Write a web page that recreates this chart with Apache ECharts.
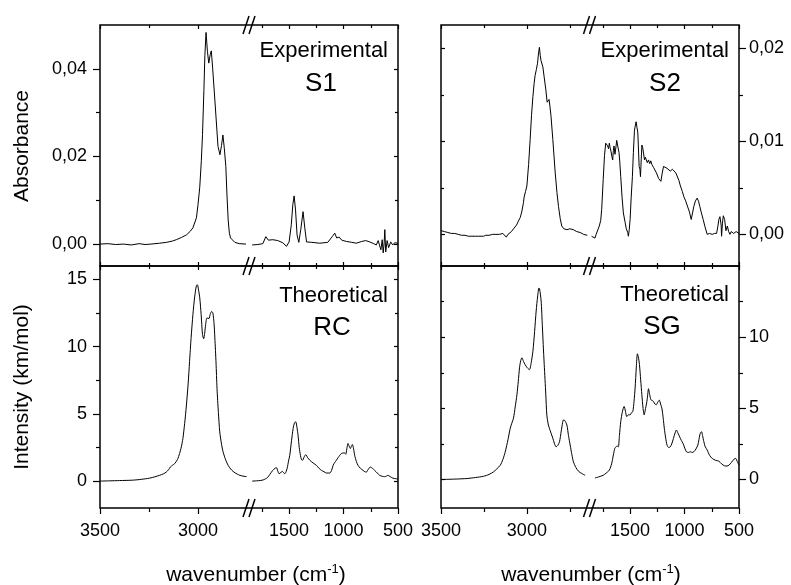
<!DOCTYPE html>
<html>
<head>
<meta charset="utf-8">
<title>IR spectra</title>
<script src="https://cdn.jsdelivr.net/npm/echarts@6.0.0/dist/echarts.min.js"></script>
<style>
  html, body { margin: 0; padding: 0; background: #fff; }
  #chart { width: 791px; height: 585px; }
</style>
</head>
<body>
<div id="chart"></div>
<script>
// ---- data: [wavenumber, value], high (C-H) and low (fingerprint) range ----
const s1Hi = [[3500,0.0000],[3460,0.0001],[3420,-0.0001],[3380,0.0000],[3340,-0.0002],[3300,0.0001],[3270,-0.0001],[3240,0.0000],[3196,0.0002],[3160,0.0004],[3130,0.0007],[3111,0.0010],[3085,0.0015],[3059,0.0021],[3040,0.0029],[3026,0.0037],[3008,0.0060],[3000,0.0090],[2991,0.0130],[2983,0.0190],[2977,0.0250],[2970,0.0350],[2965,0.0430],[2959,0.0483],[2952,0.0440],[2945,0.0413],[2938,0.0432],[2932,0.0441],[2925,0.0400],[2914,0.0329],[2898,0.0223],[2888,0.0204],[2880,0.0225],[2873,0.0249],[2866,0.0220],[2858,0.0177],[2852,0.0110],[2846,0.0055],[2840,0.0025],[2834,0.0014],[2812,0.0004],[2790,0.0001],[2755,0.0000]];
const s1Lo = [[1839,-0.0002],[1787,-0.0001],[1741,0.0001],[1714,0.0017],[1691,0.0009],[1649,0.0010],[1604,0.0008],[1558,0.0003],[1524,-0.0005],[1500,0.0005],[1480,0.0044],[1466,0.0090],[1454,0.0110],[1441,0.0078],[1427,0.0021],[1411,0.0004],[1393,0.0033],[1372,0.0074],[1356,0.0037],[1340,0.0005],[1292,0.0004],[1218,0.0002],[1145,0.0004],[1104,0.0017],[1081,0.0025],[1063,0.0014],[1040,0.0016],[1017,0.0009],[974,0.0006],[925,0.0004],[883,0.0002],[833,0.0006],[797,0.0008],[760,0.0005],[723,0.0001],[699,-0.0002],[682,0.0008],[668,-0.0004],[657,-0.0013],[645,0.0010],[636,-0.0020],[627,0.0003],[621,0.0033],[613,-0.0018],[600,0.0008],[586,-0.0008],[567,0.0005],[549,-0.0002],[531,0.0003],[515,0.0000],[500,0.0002]];

const s2Hi = [[3500,0.0004],[3490,0.0005],[3480,0.0003],[3470,0.0004],[3460,0.0002],[3450,0.0003],[3440,0.0001],[3430,0.0003],[3420,0.0001],[3410,0.0002],[3400,0.0000],[3390,0.0001],[3380,-0.0001],[3370,0.0001],[3360,-0.0001],[3350,0.0000],[3340,-0.0002],[3330,-0.0001],[3320,-0.0002],[3310,-0.0001],[3300,-0.0002],[3290,-0.0001],[3280,-0.0002],[3270,-0.0001],[3252,-0.0002],[3240,-0.0001],[3230,0.0000],[3220,-0.0001],[3210,0.0000],[3200,0.0000],[3190,0.0001],[3180,0.0000],[3170,0.0001],[3160,0.0000],[3150,0.0000],[3140,0.0001],[3130,-0.0001],[3120,-0.0003],[3116,-0.0004],[3110,0.0000],[3100,0.0002],[3090,0.0003],[3078,0.0006],[3060,0.0010],[3050,0.0014],[3039,0.0018],[3030,0.0024],[3020,0.0034],[3016,0.0040],[3008,0.0046],[3000,0.0052],[2990,0.0075],[2981,0.0102],[2973,0.0128],[2965,0.0148],[2958,0.0162],[2952,0.0171],[2945,0.0177],[2938,0.0184],[2932,0.0195],[2927,0.0201],[2922,0.0192],[2918,0.0187],[2912,0.0185],[2907,0.0180],[2900,0.0170],[2890,0.0156],[2882,0.0142],[2876,0.0141],[2871,0.0145],[2866,0.0138],[2860,0.0128],[2849,0.0102],[2835,0.0066],[2825,0.0045],[2816,0.0030],[2806,0.0017],[2797,0.0009],[2785,0.0006],[2767,0.0005],[2750,0.0006],[2729,0.0005],[2710,0.0003],[2690,0.0002],[2670,0.0000],[2648,-0.0001]];
const s2Lo = [[1854,-0.0002],[1840,0.0000],[1823,-0.0004],[1812,0.0000],[1802,0.0001],[1795,-0.0002],[1783,0.0009],[1770,0.0015],[1761,0.0027],[1747,0.0059],[1735,0.0085],[1724,0.0098],[1715,0.0096],[1706,0.0095],[1698,0.0092],[1691,0.0098],[1683,0.0093],[1675,0.0089],[1668,0.0084],[1660,0.0080],[1654,0.0090],[1648,0.0095],[1639,0.0086],[1630,0.0094],[1623,0.0101],[1612,0.0094],[1602,0.0088],[1595,0.0078],[1586,0.0062],[1574,0.0040],[1562,0.0023],[1546,0.0013],[1535,0.0006],[1530,0.0008],[1522,0.0002],[1516,-0.0002],[1508,0.0005],[1500,0.0016],[1490,0.0040],[1479,0.0062],[1470,0.0088],[1460,0.0112],[1445,0.0121],[1437,0.0115],[1429,0.0109],[1417,0.0073],[1410,0.0070],[1405,0.0062],[1398,0.0080],[1392,0.0096],[1384,0.0093],[1377,0.0095],[1368,0.0080],[1360,0.0083],[1352,0.0082],[1342,0.0077],[1331,0.0080],[1320,0.0076],[1310,0.0079],[1300,0.0075],[1285,0.0072],[1269,0.0071],[1258,0.0066],[1248,0.0068],[1238,0.0060],[1229,0.0062],[1217,0.0057],[1205,0.0066],[1193,0.0073],[1177,0.0072],[1161,0.0071],[1146,0.0069],[1131,0.0068],[1112,0.0070],[1094,0.0070],[1080,0.0066],[1069,0.0064],[1052,0.0058],[1038,0.0052],[1020,0.0046],[1008,0.0041],[990,0.0036],[976,0.0034],[955,0.0024],[939,0.0016],[925,0.0024],[915,0.0030],[900,0.0036],[884,0.0039],[870,0.0035],[860,0.0030],[845,0.0023],[829,0.0016],[812,0.0008],[792,0.0000],[770,0.0001],[746,0.0000],[725,0.0001],[706,0.0001],[695,0.0008],[685,0.0016],[675,0.0019],[669,0.0020],[664,0.0010],[660,-0.0002],[652,0.0012],[644,0.0020],[638,0.0018],[632,0.0016],[620,0.0004],[607,0.0009],[595,0.0003],[583,0.0000],[572,0.0003],[561,0.0004],[549,0.0001],[537,0.0002],[526,0.0003],[515,0.0005],[500,0.0001]];

const rcHi = [[3500,0.00],[3450,0.02],[3400,0.04],[3333,0.07],[3290,0.13],[3247,0.22],[3220,0.32],[3196,0.43],[3175,0.55],[3162,0.67],[3150,0.85],[3141,1.05],[3130,1.18],[3119,1.30],[3105,1.60],[3094,2.05],[3085,2.55],[3077,3.17],[3068,4.30],[3059,5.66],[3050,7.30],[3043,8.90],[3035,10.70],[3026,12.38],[3017,13.70],[3008,14.55],[3003,14.60],[2997,14.20],[2991,13.63],[2984,12.40],[2977,10.89],[2971,10.59],[2966,11.00],[2961,11.64],[2954,12.14],[2944,12.09],[2938,12.40],[2930,12.62],[2924,12.50],[2918,11.70],[2914,10.64],[2908,8.80],[2903,6.90],[2896,5.10],[2889,3.66],[2880,2.75],[2872,2.17],[2858,1.55],[2846,1.17],[2833,0.90],[2821,0.72],[2800,0.52],[2786,0.43],[2770,0.37],[2752,0.33]];
const rcLo = [[1839,0.00],[1800,0.02],[1760,0.05],[1738,0.09],[1700,0.25],[1677,0.50],[1650,0.80],[1630,0.95],[1616,1.00],[1604,0.75],[1592,0.55],[1575,0.65],[1561,0.72],[1550,0.62],[1539,0.55],[1528,0.70],[1518,0.95],[1505,1.50],[1494,1.92],[1478,3.00],[1463,3.92],[1450,4.35],[1439,4.41],[1428,4.00],[1418,3.42],[1407,2.50],[1396,1.92],[1386,1.60],[1377,1.55],[1362,1.80],[1347,1.97],[1330,1.75],[1310,1.55],[1280,1.35],[1249,1.17],[1225,0.95],[1203,0.80],[1180,0.70],[1157,0.60],[1127,0.60],[1110,0.80],[1096,1.17],[1080,1.40],[1066,1.55],[1050,1.75],[1035,1.92],[1020,2.05],[1005,2.09],[992,2.10],[980,2.00],[970,2.40],[959,2.80],[948,2.60],[937,2.42],[928,2.60],[919,2.72],[908,2.40],[898,1.92],[882,1.45],[867,1.17],[845,0.95],[821,0.80],[805,0.70],[791,0.67],[775,0.85],[754,1.05],[735,0.95],[715,0.80],[690,0.60],[669,0.43],[645,0.36],[623,0.33],[605,0.38],[593,0.43],[575,0.35],[547,0.22],[520,0.18],[500,0.15]];

const sgHi = [[3500,0.00],[3420,0.03],[3349,0.07],[3300,0.14],[3252,0.23],[3220,0.36],[3194,0.54],[3175,0.75],[3155,1.00],[3140,1.40],[3126,1.95],[3110,2.80],[3097,3.60],[3088,3.95],[3078,4.31],[3068,5.10],[3058,5.95],[3050,6.90],[3043,7.84],[3036,8.35],[3029,8.55],[3020,8.30],[3010,8.07],[2998,7.85],[2985,7.72],[2975,8.20],[2965,9.01],[2955,10.40],[2946,11.84],[2937,12.90],[2930,13.45],[2926,13.40],[2917,12.54],[2910,10.80],[2905,9.50],[2899,8.07],[2890,6.00],[2884,4.54],[2876,3.90],[2869,3.60],[2849,2.90],[2840,2.55],[2830,2.30],[2820,2.40],[2810,2.66],[2800,3.40],[2792,4.00],[2787,4.19],[2780,4.15],[2767,3.83],[2758,3.10],[2748,2.42],[2738,1.75],[2729,1.24],[2715,0.85],[2700,0.59],[2680,0.42],[2661,0.30]];
const sgLo = [[1823,0.11],[1790,0.18],[1747,0.30],[1720,0.45],[1691,0.66],[1670,1.10],[1654,1.72],[1640,2.20],[1629,2.30],[1618,2.35],[1608,2.30],[1598,3.10],[1586,4.07],[1570,4.80],[1555,5.13],[1543,4.80],[1531,4.42],[1515,4.55],[1500,4.54],[1487,4.70],[1475,4.77],[1464,5.50],[1454,6.43],[1443,7.90],[1433,8.83],[1424,8.60],[1414,8.07],[1403,7.00],[1392,5.95],[1381,5.00],[1371,4.54],[1358,5.00],[1346,5.48],[1338,6.00],[1331,6.38],[1320,5.95],[1309,5.60],[1297,5.55],[1285,5.48],[1272,5.30],[1260,5.25],[1245,5.45],[1232,5.58],[1220,5.30],[1207,4.96],[1196,4.30],[1186,3.60],[1173,2.90],[1161,2.42],[1146,2.25],[1131,2.30],[1118,2.50],[1106,2.78],[1090,3.20],[1075,3.48],[1060,3.25],[1045,3.00],[1030,2.75],[1014,2.54],[998,2.20],[983,1.95],[965,1.90],[946,1.95],[930,1.90],[915,1.95],[895,2.15],[878,2.42],[868,2.80],[860,3.13],[852,3.30],[844,3.36],[835,3.10],[823,2.66],[810,2.30],[792,2.07],[770,1.70],[746,1.48],[715,1.35],[685,1.29],[660,1.10],[632,0.96],[610,0.95],[592,1.01],[570,1.20],[546,1.43],[530,1.48],[515,1.25],[500,1.01]];

// ---- tick values ----
const hiMajor = [3000, 3500];
const hiMinorLeft = [3250];
const hiMinorRight = [2750, 3250];
const loMajor = [500, 1000, 1500];
const loMinor = [750, 1250, 1750];
const s1Major = [0, 0.02, 0.04];
const s1Minor = [0.01, 0.03];
const s2Major = [0, 0.01, 0.02];
const s2Minor = [0.005, 0.015];
const rcMajor = [0, 5, 10, 15];
const rcMinor = [2.5, 7.5, 12.5];
const sgMajor = [0, 5, 10];
const sgMinor = [2.5, 7.5, 12.5];

const FONT = '"Liberation Sans", Arial, Helvetica, sans-serif';
const comma = v => v.toFixed(2).replace('.', ',');
const plain = v => String(v);

// layout of the two columns / two rows (pixels)
const cols = [
  { x0: 100, xb0: 247, xb1: 251, x1: 398, brk: 249, hiMin: 2750, hiMinor: hiMinorLeft },
  { x0: 441, xb0: 587, xb1: 592, x1: 739, brk: 589.5, hiMin: 2650, hiMinor: hiMinorRight }
];
const rows = [{ y0: 25, y1: 266 }, { y0: 266, y1: 508 }];

const panels = [
  { col: 0, row: 0, hi: s1Hi, lo: s1Lo, yMin: -0.005, yMax: 0.05, major: s1Major, minor: s1Minor, fmt: comma, smooth: false,
    kind: 'Experimental', tag: 'S1', tagX: 321, tagY: 84, kindY: 51 },
  { col: 1, row: 0, hi: s2Hi, lo: s2Lo, yMin: -0.0034, yMax: 0.0225, major: s2Major, minor: s2Minor, fmt: comma, smooth: false,
    kind: 'Experimental', tag: 'S2', tagX: 665, tagY: 84, kindY: 51 },
  { col: 0, row: 1, hi: rcHi, lo: rcLo, yMin: -2, yMax: 16, major: rcMajor, minor: rcMinor, fmt: plain, smooth: 0.25,
    kind: 'Theoretical', tag: 'RC', tagX: 332, tagY: 328, kindY: 296 },
  { col: 1, row: 1, hi: sgHi, lo: sgLo, yMin: -2, yMax: 15, major: sgMajor, minor: sgMinor, fmt: plain, smooth: 0.25,
    kind: 'Theoretical', tag: 'SG', tagX: 662, tagY: 327, kindY: 295 }
];

const grid = [], xAxis = [], yAxis = [], series = [], graphic = [];
const tickStyle = { color: '#000', width: 1.2 };
const labelStyle = { color: '#000', fontFamily: FONT, fontSize: 18 };
const noLine = { show: false, onZero: false };

panels.forEach(p => {
  const c = cols[p.col], r = rows[p.row];
  const bottomRow = p.row === 1;
  const segs = [
    { data: p.hi, left: c.x0, right: c.xb0, min: c.hiMin, max: 3500, major: hiMajor, minor: c.hiMinor, side: 'left' },
    { data: p.lo, left: c.xb1, right: c.x1, min: 500, max: 1850, major: loMajor, minor: loMinor, side: 'right' }
  ];
  segs.forEach(s => {
    const outer = (p.col === 0 && s.side === 'left') || (p.col === 1 && s.side === 'right');
    [false, true].forEach(isMinor => {
      const gi = grid.length;
      grid.push({ left: s.left, top: r.y0, width: s.right - s.left, height: r.y1 - r.y0,
        containLabel: false, outerBoundsMode: 'none' });
      const xv = isMinor ? s.minor : s.major;
      const yv = isMinor ? p.minor : p.major;
      const xi = xAxis.length;
      xAxis.push({
        type: 'value', gridIndex: gi, position: 'bottom', inverse: true, min: s.min, max: s.max,
        axisLine: noLine, splitLine: { show: false },
        axisTick: { customValues: xv, inside: !bottomRow, length: bottomRow ? (isMinor ? 4 : 6) : (isMinor ? 3 : 4), lineStyle: tickStyle },
        axisLabel: { show: bottomRow && !isMinor, customValues: xv, margin: 14, ...labelStyle, formatter: plain }
      });
      xAxis.push({
        type: 'value', gridIndex: gi, position: 'top', inverse: true, min: s.min, max: s.max,
        axisLine: noLine, splitLine: { show: false },
        axisTick: { customValues: xv, inside: true, length: isMinor ? 3 : 4, lineStyle: tickStyle },
        axisLabel: { show: false }
      });
      const yi = yAxis.length;
      yAxis.push({
        type: 'value', gridIndex: gi, position: s.side, min: p.yMin, max: p.yMax,
        axisLine: noLine, splitLine: { show: false },
        axisTick: { customValues: yv, inside: !outer, length: outer ? (isMinor ? 4 : 7) : (isMinor ? 3 : 4), lineStyle: tickStyle },
        axisLabel: { show: outer && !isMinor, customValues: yv, margin: s.side === 'left' ? 13 : 10, ...labelStyle, formatter: p.fmt }
      });
      if (!isMinor) {
        series.push({
          type: 'line', xAxisIndex: xi, yAxisIndex: yi, data: s.data, smooth: p.smooth,
          showSymbol: false, symbol: 'none', clip: true,
          lineStyle: { color: '#000', width: 1 }
        });
      }
    });
  });

  // frame
  graphic.push({ type: 'rect', z: 100, silent: true,
    shape: { x: c.x0, y: r.y0, width: c.x1 - c.x0, height: r.y1 - r.y0 },
    style: { fill: 'none', stroke: '#000', lineWidth: 1.5 } });
  // labels inside the panel
  graphic.push({ type: 'text', z: 100, x: c.x1 - 10, y: p.kindY,
    style: { text: p.kind, font: '22px ' + FONT, fill: '#000', textAlign: 'right', textVerticalAlign: 'middle' } });
  graphic.push({ type: 'text', z: 100, x: p.tagX, y: p.tagY,
    style: { text: p.tag, font: '26px ' + FONT, fill: '#000', textAlign: 'center', textVerticalAlign: 'middle' } });
});

// axis-break marks
cols.forEach(c => {
  [rows[0].y0, rows[0].y1, rows[1].y1].forEach(y => {
    [-3, 3].forEach(dx => {
      graphic.push({ type: 'line', z: 101, silent: true,
        shape: { x1: c.brk + dx - 3, y1: y + 9, x2: c.brk + dx + 3, y2: y - 9 },
        style: { stroke: '#000', lineWidth: 1.5 } });
    });
  });
});

// axis titles
graphic.push({ type: 'text', x: 22, y: 146, rotation: Math.PI / 2,
  style: { text: 'Absorbance', font: '21px ' + FONT, fill: '#000', textAlign: 'center', textVerticalAlign: 'middle' } });
graphic.push({ type: 'text', x: 22, y: 387, rotation: Math.PI / 2,
  style: { text: 'Intensity (km/mol)', font: '21px ' + FONT, fill: '#000', textAlign: 'center', textVerticalAlign: 'middle' } });
[256, 591].forEach(x => {
  graphic.push({ type: 'text', x: x, y: 575,
    style: { text: 'wavenumber (cm{s|-1})', font: '21px ' + FONT, fill: '#000', textAlign: 'center', textVerticalAlign: 'middle',
      lineHeight: 24, rich: { s: { fontFamily: FONT, fontSize: 13, lineHeight: 13, verticalAlign: 'top', fill: '#000' } } } });
});

const chart = echarts.init(document.getElementById('chart'), null, { renderer: 'canvas' });
chart.setOption({
  backgroundColor: '#fff',
  animation: false,
  grid: grid,
  xAxis: xAxis,
  yAxis: yAxis,
  series: series,
  graphic: graphic
});
</script>
</body>
</html>
